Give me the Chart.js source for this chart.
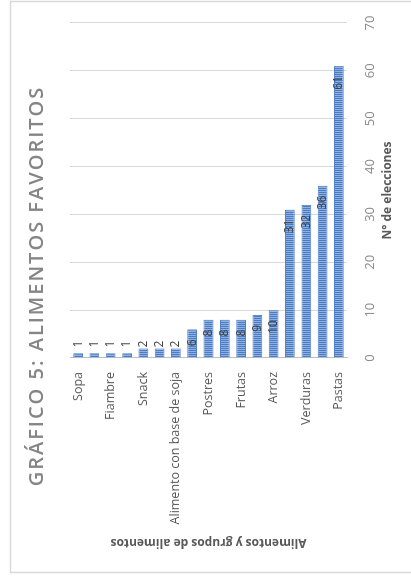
<!DOCTYPE html>
<html>
<head>
<meta charset="utf-8">
<title>Gráfico 5: Alimentos favoritos</title>
<script src="https://cdn.jsdelivr.net/npm/chart.js"></script>
<style>
    html, body {
        margin: 0;
        padding: 0;
        background: #ffffff;
        overflow: hidden;
    }
    /* the chart is laid out landscape and turned a quarter turn to the left */
    .chart-wrap {
        position: absolute;
        left: 0;
        top: 0;
        width: 581px;
        height: 411px;
        transform-origin: 0 0;
        transform: translateY(581px) rotate(-90deg);
    }
</style>
</head>
<body>
<div class="chart-wrap">
    <canvas id="myChart" width="581" height="411"></canvas>
</div>
<script>
const titulo = 'GRÁFICO 5: ALIMENTOS FAVORITOS'
// only every other category name is shown on the axis
const categorias = ['Sopa', '', 'Fiambre', '', 'Snack', '', 'Alimento con base de soja', '', 'Postres', '', 'Frutas', '', 'Arroz', '', 'Verduras', '', 'Pastas']
const elecciones = [1, 1, 1, 1, 2, 2, 2, 6, 8, 8, 8, 9, 10, 31, 32, 36, 61]
const valueTicks = [0, 10, 20, 30, 40, 50, 60, 70]

Chart.defaults.font.family = '"Open Sans", sans-serif'

const makeStripes = () => {
    const c = document.createElement('canvas')
    c.width = 2
    c.height = 1
    const g = c.getContext('2d')
    g.fillStyle = '#4a7cc6'
    g.fillRect(0, 0, 1, 1)
    g.fillStyle = '#8fb1e2'
    g.fillRect(1, 0, 1, 1)
    return g.createPattern(c, 'repeat')
}

const frameAndTitle = {
    id: 'frameAndTitle',
    beforeDraw(chart) {
        const ctx = chart.ctx
        ctx.save()
        ctx.strokeStyle = '#d9d9d9'
        ctx.lineWidth = 1.5
        ctx.strokeRect(8.5, 10.5, 571, 440)
        ctx.restore()
    },
    afterDraw(chart) {
        const ctx = chart.ctx
        ctx.save()
        ctx.font = '600 20px "Open Sans"'
        ctx.letterSpacing = '2px'
        ctx.fillStyle = '#858585'
        ctx.textAlign = 'center'
        ctx.textBaseline = 'middle'
        ctx.fillText(titulo, 295, 37)
        ctx.restore()
    }
}

// value labels at the inside end of each bar, pushed out when the bar is too short
const barLabels = {
    id: 'barLabels',
    afterDatasetsDraw(chart) {
        const ctx = chart.ctx
        const meta = chart.getDatasetMeta(0)
        ctx.save()
        ctx.font = '12px "Open Sans"'
        ctx.fillStyle = '#404040'
        ctx.textAlign = 'right'
        ctx.textBaseline = 'middle'
        meta.data.forEach((bar, i) => {
            const text = String(elecciones[i])
            const w = ctx.measureText(text).width
            const x = Math.max(bar.x - 10, bar.base + 10 + w)
            ctx.fillText(text, x, bar.y)
        })
        ctx.restore()
    }
}

const chart = new Chart(document.getElementById('myChart').getContext('2d'), {
    type: 'bar',
    data: {
        labels: categorias,
        datasets: [{
            label: 'N° de elecciones',
            data: elecciones,
            backgroundColor: makeStripes(),
            borderColor: '#5482c6',
            borderWidth: 1,
            barPercentage: 0.6,
            categoryPercentage: 1
        }]
    },
    options: {
        indexAxis: 'y',
        responsive: false,
        animation: false,
        layout: {
            padding: { left: 0, top: 70, right: 23, bottom: 0 }
        },
        plugins: {
            legend: { display: false },
            tooltip: { enabled: false }
        },
        scales: {
            x: {
                min: valueTicks[0],
                max: valueTicks[valueTicks.length - 1],
                afterFit: (scale) => { scale.height = 64 },
                ticks: {
                    stepSize: valueTicks[1] - valueTicks[0],
                    padding: 15,
                    color: '#8c8c8c',
                    font: { size: 13 }
                },
                grid: { color: '#d9d9d9', drawTicks: false },
                border: { display: false },
                title: {
                    display: true,
                    text: 'N° de elecciones',
                    color: '#595959',
                    font: { size: 12, weight: 'bold' },
                    padding: { top: 0, bottom: 16 }
                }
            },
            y: {
                afterFit: (scale) => { scale.width = 223 },
                ticks: {
                    autoSkip: false,
                    padding: 14,
                    color: '#595959',
                    font: { size: 12.5 }
                },
                grid: { display: false, drawTicks: false },
                border: { display: true, color: '#bfbfbf', width: 1 },
                title: {
                    display: true,
                    text: 'Alimentos y grupos de alimentos',
                    color: '#595959',
                    font: { size: 12, weight: 'bold' },
                    padding: { top: 31, bottom: 0 }
                }
            }
        }
    },
    plugins: [frameAndTitle, barLabels]
})
</script>
</body>
</html>
